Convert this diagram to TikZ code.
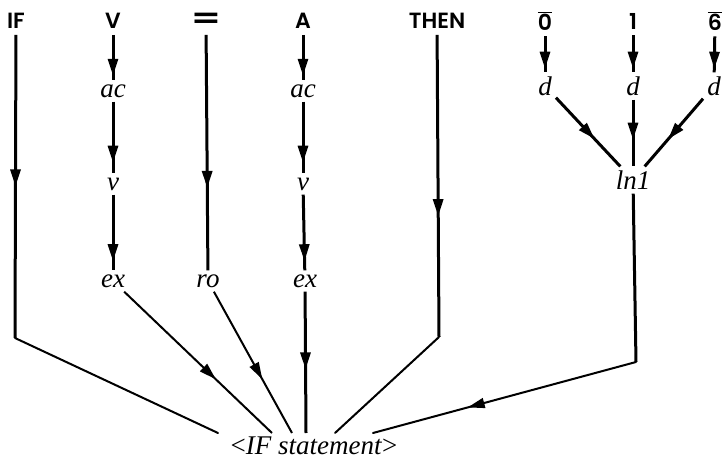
\documentclass[tikz,border=0pt]{standalone}
\usepackage{fontspec}
\usepackage{graphicx}
\usetikzlibrary{arrows.meta,decorations.markings}
\newfontfamily\kwfont{Poppins}[UprightFont={* SemiBold}]
\newfontfamily\labfont{Liberation Serif}
\newcommand\kwsize{\fontsize{22}{26}\selectfont}
\begin{document}
\begin{tikzpicture}[x=1pt,y=-1pt,
  kw/.style={font=\kwfont\kwsize, inner sep=6pt},
  lbl/.style={font=\labfont\itshape\fontsize{27}{30}\selectfont, inner sep=4pt},
  thk/.style={line width=3pt},
  thn/.style={line width=2pt},
  tipat/.style={postaction={decorate, decoration={markings,
      mark=at position #1 with {\arrow{Triangle[length=17pt,width=10pt]}}}}},
]
\useasboundingbox (0,0) rectangle (723,465);

% terminal symbols along the top
\node[kw] (if)   at (16,21)  {IF};
\node[kw] (v)    at (113,21) {V};
\node[kw] (eq)   at (206,21) {\scalebox{1.9}[1.3]{=}};
\node[kw] (a)    at (303,21) {A};
\node[kw] (then) at (437,21) {THEN};
\node[kw] (n0)   at (545,21) {$\overline{\hbox{\kwfont\kwsize 0}}$};
\node[kw] (n1)   at (633,21) {1};
\node[kw] (n6)   at (715,21) {$\overline{\hbox{\kwfont\kwsize 6}}$};

% intermediate categories
\node[lbl] (ac1) at (113,91)  {ac};
\node[lbl] (ac2) at (303,91)  {ac};
\node[lbl] (d1)  at (545,86)  {d};
\node[lbl] (d2)  at (633,86)  {d};
\node[lbl] (d3)  at (714,86)  {d};
\node[lbl] (v1)  at (113,184) {v};
\node[lbl] (v2)  at (303,184) {v};
\node[lbl] (ln)  at (633,180) {ln1};
\node[lbl] (ex1) at (113,281) {ex};
\node[lbl] (ro)  at (208,281) {ro};
\node[lbl] (ex2) at (305,281) {ex};

% root
\node[font=\labfont\fontsize{27}{30}\selectfont, inner sep=4pt] (stmt) at (314,446)
  {<\textit{IF statement}>};

% bends and entry points at the root
\coordinate (ifbend)   at (15,338);
\coordinate (thenbend) at (439,337);
\coordinate (lnbend)   at (636,362);
\coordinate (in1) at (218,433);
\coordinate (in2) at (272,433);
\coordinate (in3) at (292,433);
\coordinate (in4) at (306,433);
\coordinate (in5) at (335,433);
\coordinate (in6) at (373,433);

% short derivation arrows
\draw[thk, tipat=0.9] (v) -- (ac1);
\draw[thk, tipat=0.9] (a) -- (ac2);
\draw[thk, tipat=0.85] (ac1) -- (v1);
\draw[thk, tipat=0.85] (ac2) -- (v2);
\draw[thk, tipat=0.88] (v1) -- (ex1);
\draw[thk, tipat=0.88] (v2) -- (ex2);
\draw[thk, tipat=0.65] (eq) -- (ro);
\draw[thk, tipat=0.9] (n0) -- (d1);
\draw[thk, tipat=0.9] (n1) -- (d2);
\draw[thk, tipat=0.9] (n6) -- (d3);
\draw[thk, tipat=0.6] (d1) -- (ln);
\draw[thk, tipat=0.6] (d2) -- (ln);
\draw[thk, tipat=0.6] (d3) -- (ln);

% long branches into the root
\draw[thk, tipat=0.5] (if) -- (ifbend);
\draw[thn, line cap=round] (ifbend) -- (in1);
\draw[thk, tipat=0.6] (then) -- (thenbend);
\draw[thn, line cap=round] (thenbend) -- (in5);
\draw[thk] (ln) -- (lnbend);
\draw[thn, line cap=round, tipat=0.64] (lnbend) -- (in6);
\draw[thn, tipat=0.62] (ex1) -- (in2);
\draw[thn, tipat=0.62] (ro) -- (in3);
\draw[thk, tipat=0.55] (ex2) -- (in4);
\end{tikzpicture}
\end{document}
